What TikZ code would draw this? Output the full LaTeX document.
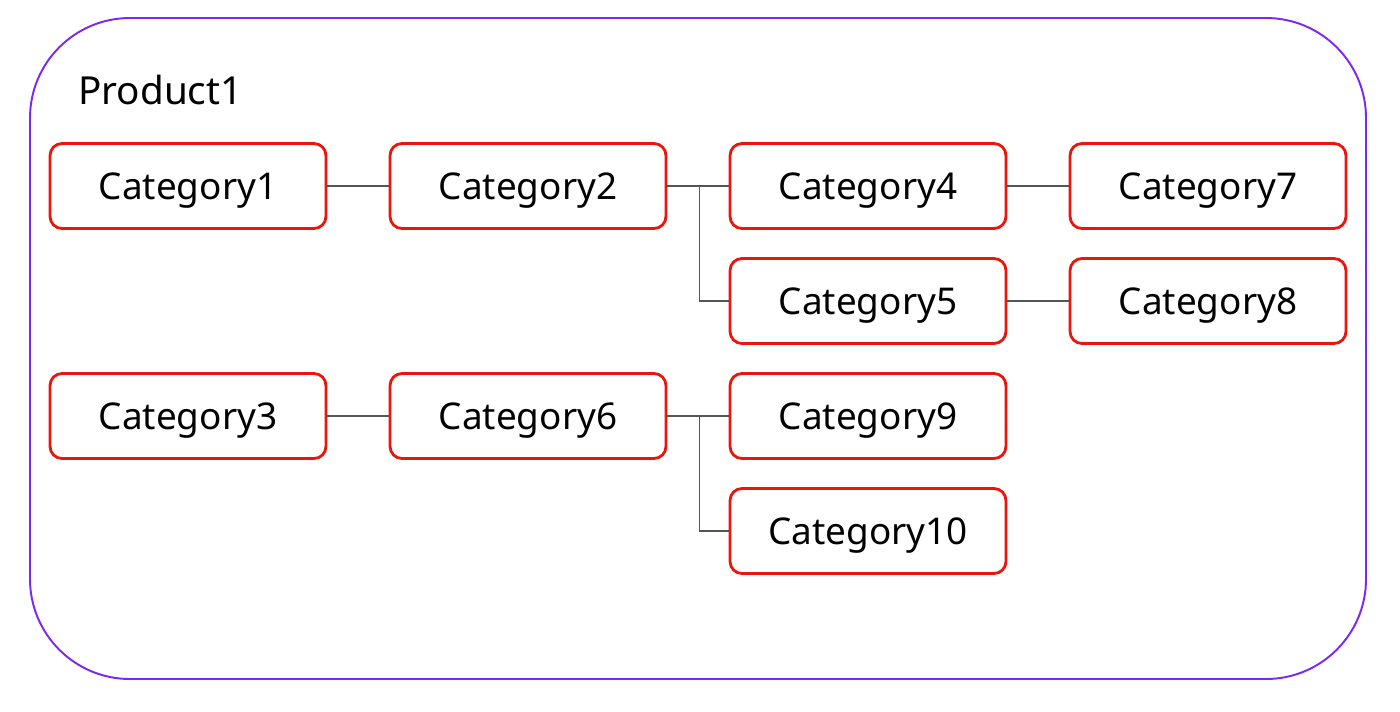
\documentclass[tikz,border=0pt]{standalone}
\usepackage{fontspec}
\setmainfont{Noto Sans}
\definecolor{prod@purple}{RGB}{124,40,240}
\definecolor{cat@red}{RGB}{232,22,12}
\definecolor{link@gray}{RGB}{85,85,85}

\begin{document}
\begin{tikzpicture}[x=0.02cm, y=-0.02cm, font=\fontsize{21}{24}\selectfont,
  catbox/.style={draw=cat@red, line width=1.6pt, rounded corners=0.24cm, fill=white,
    minimum width=5.52cm, minimum height=1.7cm, inner sep=0pt, text depth=0pt},
  link/.style={draw=link@gray, line width=0.6pt}]
  % Bounding box = reference canvas
  \path[use as bounding box] (0,0) rectangle (1400,711);

  % ---- PRODUCT FRAME ----
  \draw[prod@purple, line width=1.1pt, rounded corners=2cm] (30,18) rectangle (1366,679);
  \node[anchor=west, inner sep=0pt, font=\fontsize{22}{26}\selectfont] (prod) at (78,90) {Product1};

  % ---- CATEGORY BOXES (column x / row y of centres) ----
  \foreach \n/\cx/\cy in {1/188/186, 2/528/186, 4/868/186, 7/1208/186,
                          5/868/301, 8/1208/301,
                          3/188/416, 6/528/416, 9/868/416, 10/868/531} {
    \node[catbox] (c\n) at (\cx,\cy) {Category\n};
  }

  % ---- LINKS ----
  \draw[link] (c1.east) -- (c2.west);
  \draw[link] (c2.east) -- (c4.west);
  \draw[link] (c2.east) -- ++(32,0) |- (c5.west);
  \draw[link] (c4.east) -- (c7.west);
  \draw[link] (c5.east) -- (c8.west);
  \draw[link] (c3.east) -- (c6.west);
  \draw[link] (c6.east) -- (c9.west);
  \draw[link] (c6.east) -- ++(32,0) |- (c10.west);
\end{tikzpicture}
\end{document}
